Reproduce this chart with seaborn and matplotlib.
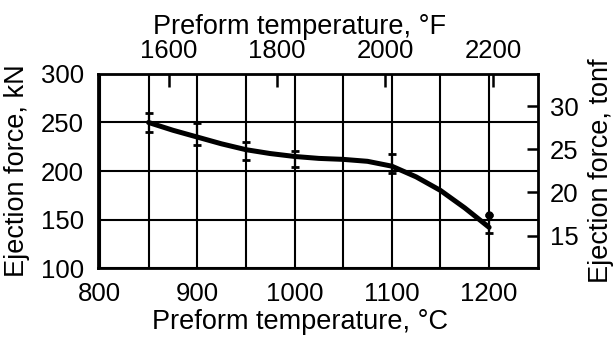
import numpy as np
import pandas as pd
import matplotlib
matplotlib.use('Agg')
import matplotlib.pyplot as plt
import seaborn as sns

# measured points (deg C, kN) with error bar ends
temp_c = [850, 900, 950, 1000, 1100, 1200]
force_kn = [250, 235, 222, 215, 205, 144]
err_low = [240, 227, 211, 204, 198, 136]
err_high = [260, 249, 230, 221, 218, 155]

# fitted curve
curve_c = [850, 875, 900, 925, 950, 975, 1000, 1025, 1050, 1075, 1100, 1125, 1150, 1175, 1200]
curve_kn = [250, 242, 235, 228, 222, 218, 215, 213, 212, 210, 205, 194, 180, 162, 142]

x_ticks = [800, 900, 1000, 1100, 1200]
y_ticks = [100, 150, 200, 250, 300]
f_ticks = [1600, 1800, 2000, 2200]
tonf_ticks = [15, 20, 25, 30]

sns.set_style('white')
plt.rcParams['font.family'] = ['Liberation Sans', 'DejaVu Sans']
plt.rcParams['text.color'] = 'black'
plt.rcParams['axes.labelcolor'] = 'black'
FS = 18.5   # tick labels
LS = 19.5   # axis labels

fig = plt.figure(figsize=(6.16, 3.39), dpi=100)
ax = fig.add_axes([0.159, 0.209, 0.714, 0.573])

curve = pd.DataFrame({'c': curve_c, 'kn': curve_kn})
sns.lineplot(data=curve, x='c', y='kn', ax=ax, color='black', linewidth=3.6)

pts = pd.DataFrame({'c': temp_c, 'kn': force_kn, 'lo': err_low, 'hi': err_high})
ax.errorbar(pts['c'], pts['kn'],
            yerr=[pts['kn'] - pts['lo'], pts['hi'] - pts['kn']],
            fmt='none', ecolor='black', elinewidth=1.6, capsize=3, capthick=2)
ax.plot([1200], [err_high[-1]], 'o', color='black', markersize=5)

ax.set_xlim(798, 1250)
ax.set_ylim(100, 300)
ax.set_xticks(x_ticks)
ax.set_xticks([850, 950, 1050, 1150], minor=True)
ax.set_yticks(y_ticks)
ax.grid(True, which='both', axis='x', color='black', linewidth=1.5)
ax.grid(True, which='major', axis='y', color='black', linewidth=1.5)
ax.tick_params(axis='both', which='both', length=0, labelsize=FS, pad=10, colors='black')
for s in ax.spines.values():
    s.set_linewidth(2)
    s.set_color('black')

ax.set_xlabel('Preform temperature, °C', fontsize=LS, labelpad=2)
ax.xaxis.label.set_x(0.459)
ax.set_ylabel('Ejection force, kN', fontsize=LS, labelpad=8)

# top axis in deg F
top = ax.secondary_xaxis('top', functions=(lambda c: c * 9 / 5 + 32,
                                           lambda f: (f - 32) * 5 / 9))
top.set_xticks(f_ticks)
top.tick_params(direction='in', length=9, width=1.8, labelsize=FS, pad=7.5, colors='black')
top.set_xlabel('Preform temperature, °F', fontsize=LS, labelpad=4)
top.xaxis.label.set_x(0.459)

# right axis in short tons-force
right = ax.secondary_yaxis('right', functions=(lambda k: k * 0.1124,
                                               lambda t: t / 0.1124))
right.set_yticks(tonf_ticks)
right.tick_params(direction='in', length=8, width=1.8, labelsize=FS, pad=8.5, colors='black')
right.set_ylabel('Ejection force, tonf', fontsize=LS, labelpad=7)

fig.savefig('out.png', dpi=100)
